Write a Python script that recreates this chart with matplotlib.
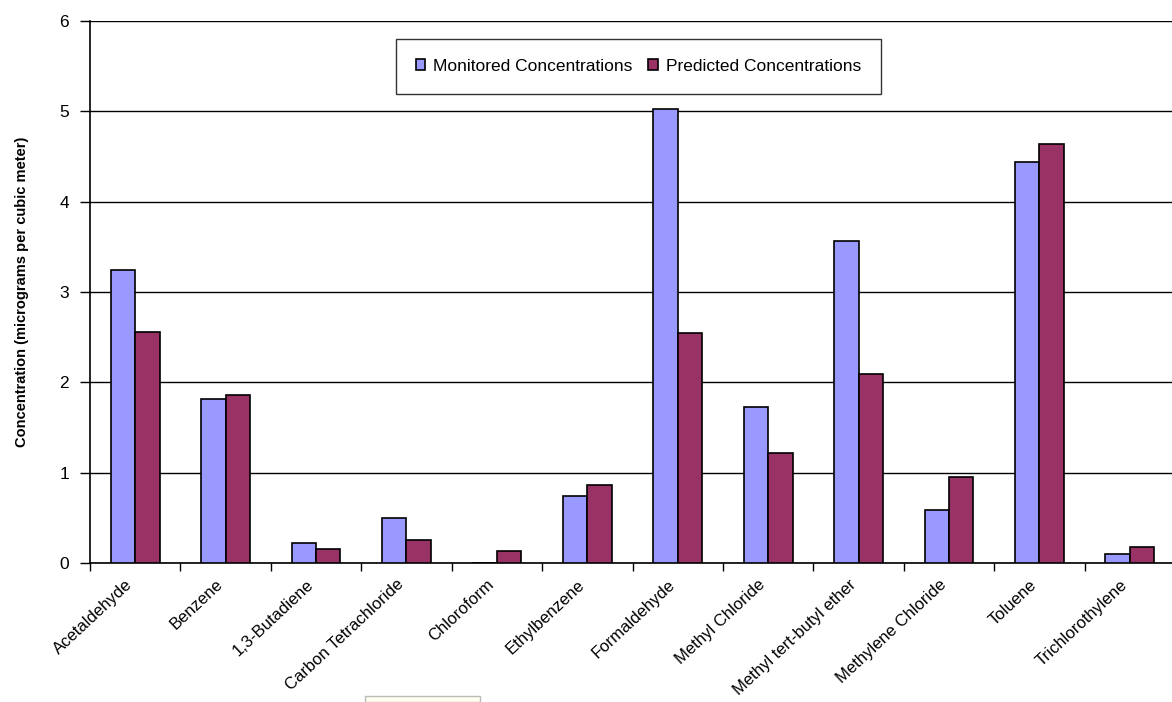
import numpy as np
import matplotlib.pyplot as plt
import matplotlib.transforms as mtransforms
from matplotlib.patches import Rectangle

plt.rcParams['font.family'] = ['Liberation Sans', 'DejaVu Sans']

# Data
pollutants = ['Acetaldehyde', 'Benzene', '1,3-Butadiene', 'Carbon Tetrachloride',
              'Chloroform', 'Ethylbenzene', 'Formaldehyde', 'Methyl Chloride',
              'Methyl tert-butyl ether', 'Methylene Chloride', 'Toluene',
              'Trichlorothylene']
monitored = [3.24, 1.81, 0.22, 0.50, 0.0, 0.74, 5.03, 1.73, 3.57, 0.59, 4.44, 0.10]
predicted = [2.56, 1.86, 0.16, 0.26, 0.13, 0.86, 2.55, 1.22, 2.09, 0.95, 4.64, 0.18]
yticks = [0, 1, 2, 3, 4, 5, 6]

fig = plt.figure(figsize=(11.72, 7.02), dpi=100)
ax = fig.add_axes([90 / 1172, 139 / 702, 1085 / 1172, 542 / 702])

x = np.arange(len(pollutants))
w = 0.27
ax.bar(x - w / 2, monitored, w, color='#9999FF', edgecolor='black', linewidth=1.2,
       label='Monitored Concentrations', zorder=3)
ax.bar(x + w / 2, predicted, w, color='#993366', edgecolor='black', linewidth=1.2,
       label='Predicted Concentrations', zorder=3)

ax.set_xlim(-0.5, len(pollutants) - 0.5)
ax.set_ylim(0, 6)
ax.set_yticks(yticks)
ax.yaxis.grid(True, color='black', linewidth=1.0, zorder=0)
ax.set_axisbelow(True)

# category ticks at group boundaries, labels at centres
ax.set_xticks(np.arange(len(pollutants) + 1) - 0.5)
ax.set_xticklabels([])
ax.set_xticks(x, minor=True)
ax.set_xticklabels(pollutants, minor=True, rotation=43, ha='right',
                   rotation_mode='anchor', fontsize=12)
ax.tick_params(axis='x', which='minor', length=0, pad=10)
ax.tick_params(axis='x', which='major', length=6, width=1, direction='out')
ax.tick_params(axis='y', length=7, width=1, labelsize=12.5, pad=8)
shift = mtransforms.ScaledTranslation(-10 / 100, 0, fig.dpi_scale_trans)
for lab in ax.get_xticklabels(minor=True):
    lab.set_transform(lab.get_transform() + shift)

for s in ['top', 'right']:
    ax.spines[s].set_visible(False)
ax.spines['left'].set_linewidth(1.2)
ax.spines['bottom'].set_linewidth(1.2)

ax.set_ylabel('Concentration (micrograms per cubic meter)', fontsize=10.5,
              fontweight='bold', labelpad=22)

leg = ax.legend(loc='upper left', bbox_to_anchor=(0.282, 0.967), ncol=2,
                fontsize=12.5, frameon=True, fancybox=False, edgecolor='black',
                handlelength=0.55, handleheight=0.55, handletextpad=0.45,
                columnspacing=0.9, borderpad=1.15, borderaxespad=0)
leg.get_frame().set_linewidth(1.0)

# small pop-up box artefact at the bottom of the screenshot
fig.patches.append(Rectangle((365 / 1172, 0), 115 / 1172, 6 / 702,
                             transform=fig.transFigure, facecolor='#FFFFF0',
                             edgecolor='#BBBBBB', linewidth=1))

fig.savefig('out.png', dpi=100)
